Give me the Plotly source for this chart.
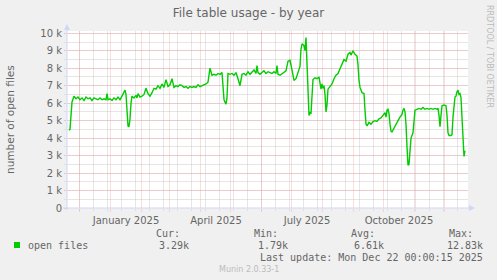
import plotly.graph_objects as go

# ---------------- data ----------------
dates = [
    "2024-11-21", "2024-11-22", "2024-11-24", "2024-11-26", "2024-11-28", "2024-11-30",
    "2024-12-02", "2024-12-04", "2024-12-06", "2024-12-08", "2024-12-10", "2024-12-12",
    "2024-12-14", "2024-12-16", "2024-12-18", "2024-12-20", "2024-12-22", "2024-12-24",
    "2024-12-26", "2024-12-28", "2024-12-29", "2024-12-30",
    "2025-01-01", "2025-01-03", "2025-01-05", "2025-01-07", "2025-01-09", "2025-01-11",
    "2025-01-13", "2025-01-15", "2025-01-16", "2025-01-17", "2025-01-18", "2025-01-19",
    "2025-01-20", "2025-01-21", "2025-01-22", "2025-01-23", "2025-01-25", "2025-01-27",
    "2025-01-28", "2025-01-29", "2025-01-31",
    "2025-02-02", "2025-02-04", "2025-02-06", "2025-02-08", "2025-02-10", "2025-02-12",
    "2025-02-14", "2025-02-16", "2025-02-18", "2025-02-20", "2025-02-22", "2025-02-24",
    "2025-02-26", "2025-02-28",
    "2025-03-02", "2025-03-04", "2025-03-06", "2025-03-08", "2025-03-10", "2025-03-12",
    "2025-03-14", "2025-03-16", "2025-03-18", "2025-03-20", "2025-03-22", "2025-03-24",
    "2025-03-26", "2025-03-28", "2025-03-30",
    "2025-04-01", "2025-04-03", "2025-04-07", "2025-04-09", "2025-04-11", "2025-04-12",
    "2025-04-13", "2025-04-15", "2025-04-17", "2025-04-19", "2025-04-21", "2025-04-23",
    "2025-04-24", "2025-04-25", "2025-04-26", "2025-04-27", "2025-04-28", "2025-04-29",
    "2025-05-01", "2025-05-03", "2025-05-05", "2025-05-07", "2025-05-09", "2025-05-11",
    "2025-05-13", "2025-05-15", "2025-05-17", "2025-05-19", "2025-05-21", "2025-05-23",
    "2025-05-25", "2025-05-27", "2025-05-28", "2025-05-29", "2025-05-31",
    "2025-06-02", "2025-06-04", "2025-06-06", "2025-06-08", "2025-06-10", "2025-06-12",
    "2025-06-14", "2025-06-16", "2025-06-17", "2025-06-18", "2025-06-20", "2025-06-22",
    "2025-06-24", "2025-06-26", "2025-06-28", "2025-06-30",
    "2025-07-02", "2025-07-04", "2025-07-06", "2025-07-08", "2025-07-10", "2025-07-11",
    "2025-07-12", "2025-07-14", "2025-07-15", "2025-07-16", "2025-07-17", "2025-07-18",
    "2025-07-19", "2025-07-20", "2025-07-21", "2025-07-22", "2025-07-23", "2025-07-25",
    "2025-07-27", "2025-07-29", "2025-07-31",
    "2025-08-01", "2025-08-02", "2025-08-03", "2025-08-04", "2025-08-05", "2025-08-06",
    "2025-08-07", "2025-08-09", "2025-08-11", "2025-08-13", "2025-08-15", "2025-08-17",
    "2025-08-19", "2025-08-21", "2025-08-23", "2025-08-25", "2025-08-27", "2025-08-29",
    "2025-08-30",
    "2025-09-01", "2025-09-03", "2025-09-05", "2025-09-06", "2025-09-07", "2025-09-08",
    "2025-09-10", "2025-09-12", "2025-09-13", "2025-09-14", "2025-09-15", "2025-09-17",
    "2025-09-19", "2025-09-21", "2025-09-23", "2025-09-25", "2025-09-27", "2025-09-29",
    "2025-10-01", "2025-10-03", "2025-10-04", "2025-10-05", "2025-10-06", "2025-10-07",
    "2025-10-08", "2025-10-09", "2025-10-10", "2025-10-12", "2025-10-14", "2025-10-16",
    "2025-10-18", "2025-10-20", "2025-10-21", "2025-10-22", "2025-10-23", "2025-10-24",
    "2025-10-25", "2025-10-26", "2025-10-27", "2025-10-28", "2025-10-29", "2025-10-31",
    "2025-11-01", "2025-11-02", "2025-11-04", "2025-11-06", "2025-11-08", "2025-11-10",
    "2025-11-12", "2025-11-14", "2025-11-16", "2025-11-18", "2025-11-20", "2025-11-22",
    "2025-11-24", "2025-11-25", "2025-11-26", "2025-11-27", "2025-11-28", "2025-11-29",
    "2025-12-01", "2025-12-03", "2025-12-04", "2025-12-05", "2025-12-06", "2025-12-08",
    "2025-12-09", "2025-12-10", "2025-12-12", "2025-12-13", "2025-12-14", "2025-12-15",
    "2025-12-16", "2025-12-17", "2025-12-18", "2025-12-19", "2025-12-20", "2025-12-21",
    "2025-12-22",
]
open_files = [
    4460, 4500, 6070, 6400, 6250, 6350,
    6200, 6300, 6150, 6350, 6250, 6300,
    6150, 6300, 6250, 6200, 6300, 6200,
    6250, 6200, 6550, 6200,
    6250, 6150, 6300, 6200, 6350, 6200,
    6400, 6600, 6750, 6500, 5200, 4700,
    4650, 5100, 6000, 6400, 6300, 6450,
    6300, 6550, 6350,
    6400, 6500, 6850, 6550, 6400, 6600,
    6850, 6800, 7000, 6850, 7100, 6900,
    7350, 6950,
    7050, 7400, 6900, 7000, 6950, 7050,
    7000, 6900, 6950, 6850, 6950, 6900,
    6950, 6900, 7050,
    6950, 7000, 7100, 7200, 8000, 7800,
    7600, 7650, 7600, 7700, 7650, 7750,
    7000, 6200, 6050, 5950, 6300, 7700,
    7650, 7700, 7600, 7750, 7400, 7000,
    7650, 7700, 7600, 7800, 7650, 7800,
    7900, 7700, 8150, 7750, 7650,
    7750, 7850, 7700, 7800, 7750, 7700,
    7800, 7700, 8150, 7650, 7600, 7700,
    7800, 7850, 8400, 8450,
    7900, 7300, 7400, 7700, 8100, 9100,
    9400, 9300, 9000, 9750, 8500, 6500,
    5300, 5450, 5400, 6400, 7350, 7450,
    7400, 7500, 6800,
    7100, 6850, 7000, 6500, 5500, 5900,
    6800, 6950, 7100, 7400, 7600, 7700,
    8000, 8300, 8500, 8400, 8800, 8900,
    8750,
    9000, 8800, 8700, 8200, 7300, 6900,
    6600, 6550, 5600, 4800, 4700, 4900,
    4800, 4950, 5000, 4950, 5100, 5150,
    5300, 5450, 5200, 5600, 5650, 5400,
    4800, 4400, 4350, 4600, 4850, 5000,
    5200, 5350, 5600, 5700, 5500, 4800,
    3500, 2450, 2500, 3200, 4000, 4300,
    5000, 5600, 5650, 5700, 5650, 5750,
    5650, 5700, 5650, 5700, 5650, 5700,
    5650, 5700, 5300, 4650, 5300, 5850,
    5900, 5850, 5300, 4300, 4150, 4150,
    4200, 5200, 6350, 6400, 6650, 6750,
    6500, 6550, 6300, 5400, 4000, 2950,
    3290,
]

month_starts = ["2024-12-01", "2025-01-01", "2025-02-01", "2025-03-01", "2025-04-01",
                "2025-05-01", "2025-06-01", "2025-07-01", "2025-08-01", "2025-09-01",
                "2025-10-01", "2025-11-01", "2025-12-01"]
month_labels = ["", "January 2025", "", "", "April 2025", "", "", "July 2025", "", "",
                "October 2025", "", ""]
y_ticks = [0, 1000, 2000, 3000, 4000, 5000, 6000, 7000, 8000, 9000, 10000]
y_labels = ["0", "1 k", "2 k", "3 k", "4 k", "5 k", "6 k", "7 k", "8 k", "9 k", "10 k"]

series_name = "open files"
stat_names = ["Cur:", "Min:", "Avg:", "Max:"]
stat_values = ["3.29k", "1.79k", "6.61k", "12.83k"]
last_update = "Last update: Mon Dec 22 00:00:15 2025"

# ---------------- layout helpers ----------------
W, H = 497, 280
L, R, T, B = 67, 29, 31, 72
PW, PH = W - L - R, H - T - B


def px(x):
    return (x - L) / PW


def py(y):
    return (H - B - y) / PH


FONT = "#666666"
AXIS = "#CFD6F8"
MGRID = "rgba(245,150,150,0.32)"
GRID = "rgba(200,200,200,0.45)"
GREEN = "#00CC00"

fig = go.Figure()
fig.add_trace(go.Scatter(x=dates, y=open_files, mode="lines",
                         line=dict(color=GREEN, width=1.4), showlegend=False,
                         hoverinfo="skip"))

fig.update_layout(
    width=W, height=H,
    margin=dict(l=L, r=R, t=T, b=B),
    paper_bgcolor="#F0F0F0", plot_bgcolor="#FFFFFF",
    font=dict(family="DejaVu Sans", size=10, color=FONT),
    title=dict(text="File table usage - by year", x=0.5, xref="container",
               y=1 - 13 / H, yref="container", yanchor="middle", xanchor="center",
               font=dict(family="DejaVu Sans", size=12, color=FONT)),
    showlegend=False,
)

fig.update_xaxes(
    type="date", range=["2024-11-19", "2025-12-25"],
    tickmode="array", tickvals=month_starts, ticktext=month_labels,
    ticklabelshift=16,
    showgrid=True, gridcolor=MGRID, gridwidth=1,
    ticks="outside", ticklen=3, tickcolor=MGRID,
    showline=False, zeroline=False,
    tickfont=dict(size=10, color=FONT),
    minor=dict(tick0="2024-12-15", dtick=14 * 86400000, showgrid=True,
               gridcolor=GRID, ticks="outside", ticklen=2, tickcolor=GRID),
)
fig.update_yaxes(
    range=[0, 10130], tickmode="array", tickvals=y_ticks, ticktext=y_labels,
    showgrid=True, gridcolor=MGRID, gridwidth=1,
    ticks="outside", ticklen=2, tickcolor=MGRID,
    showline=False, zeroline=False,
    tickfont=dict(size=10, color=FONT),
    minor=dict(dtick=500, showgrid=True, gridcolor=GRID,
               ticks="outside", ticklen=2, tickcolor=GRID),
)

shapes = [
    # axes lines
    dict(type="line", xref="paper", yref="paper", x0=px(67), x1=px(67), y0=py(210), y1=py(28),
         line=dict(color=AXIS, width=1)),
    dict(type="line", xref="paper", yref="paper", x0=px(63), x1=px(471), y0=py(208), y1=py(208),
         line=dict(color=AXIS, width=1)),
    # arrows
    dict(type="path", xref="paper", yref="paper",
         path=f"M {px(64)} {py(30)} L {px(70)} {py(30)} L {px(67)} {py(24)} Z",
         fillcolor=AXIS, line=dict(color=AXIS, width=0)),
    dict(type="path", xref="paper", yref="paper",
         path=f"M {px(469)} {py(205)} L {px(469)} {py(211)} L {px(475)} {py(208)} Z",
         fillcolor=AXIS, line=dict(color=AXIS, width=0)),
    # legend colour box
    dict(type="rect", xref="paper", yref="paper", x0=px(14), x1=px(20), y0=py(242), y1=py(248),
         fillcolor=GREEN, line=dict(width=0)),
]
fig.update_layout(shapes=shapes)

MONO = "DejaVu Sans Mono"
ann = []


def text(s, x, y, xanchor="left", size=10, family=MONO, color=FONT, angle=0):
    ann.append(dict(text=s, x=px(x), y=py(y), xref="paper", yref="paper",
                    xanchor=xanchor, yanchor="middle", showarrow=False,
                    textangle=angle, borderpad=0,
                    font=dict(family=family, size=size, color=color)))


text("number of open files", 10, 120, xanchor="center", family="DejaVu Sans", size=10.5, angle=-90)
text("RRDTOOL / TOBI OETIKER", 490, 57, xanchor="center", family="DejaVu Sans", size=8,
     color="#BBBBBB", angle=90)

stat_x = [155, 252.5, 350, 447.5]
val_right = [190, 288.5, 385, 483.5]
for name, sx in zip(stat_names, stat_x):
    text(name, sx, 233.5)
text(series_name, 26.5, 245)
for v, vx in zip(stat_values, val_right):
    text(v, vx, 245, xanchor="right")
text(last_update, 483.5, 257.5, xanchor="right")
text("Munin 2.0.33-1", 248.5, 269.5, xanchor="center", family="DejaVu Sans", size=8,
     color="#BBBBBB")

fig.update_layout(annotations=ann)

fig.write_html("out.html")
